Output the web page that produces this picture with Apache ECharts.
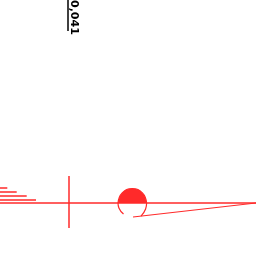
<!DOCTYPE html>
<html>
<head>
<meta charset="utf-8">
<script src="https://cdn.jsdelivr.net/npm/echarts@6/dist/echarts.min.js"></script>
<style>
  html, body { margin: 0; padding: 0; background: #fff; }
  #chart { width: 256px; height: 256px; }
</style>
</head>
<body>
<div id="chart"></div>
<script>
// values
let barCategories = ['a', 'b', 'c', 'd'];
let barValues = [7.3, 16.7, 26.7, 36];

let loopTop = [[49, 0], [53.2, 10.1], [63.3, 14.3], [73.4, 10.1], [77.6, 0]];
let loopLeft = [[49, 0], [49.9, -4.9], [54.5, -11]];
let loopRight = [[77.6, 0], [76.6, -6], [72, -13.1]];
let tail = [[64, -14], [187, 0]];

let valueLabel = '0,041';

let chart = echarts.init(document.getElementById('chart'));

let red = '#ff2a2a';
let hidden = { show: false };

function loopLine(data, area) {
    let s = {
        type: 'line',
        xAxisIndex: 0,
        yAxisIndex: 0,
        data: data,
        smooth: true,
        symbol: 'none',
        lineStyle: { color: red, width: 1.2 },
        silent: true
    };
    if (area) {
        s.areaStyle = { color: red, opacity: 1 };
    }
    return s;
}

// zero lines of the main grid
let zeroLines = {
    silent: true,
    symbol: 'none',
    label: hidden,
    lineStyle: { color: red, width: 1.5, type: 'solid' },
    data: [{ xAxis: 0 }, { yAxis: 0 }]
};

let tailSeries = loopLine(tail, false);
tailSeries.smooth = false;
tailSeries.markLine = zeroLines;

chart.setOption({
    animation: false,
    grid: [
        { left: 0, right: 0, top: 176, bottom: 28 },
        { left: 0, right: 0, top: 186, height: 16 }
    ],
    xAxis: [
        {
            type: 'value', gridIndex: 0, min: -69, max: 187,
            axisLine: hidden, axisTick: hidden, axisLabel: hidden, splitLine: hidden
        },
        {
            type: 'value', gridIndex: 1, min: 0, max: 256,
            axisLine: hidden, axisTick: hidden, axisLabel: hidden, splitLine: hidden
        }
    ],
    yAxis: [
        {
            type: 'value', gridIndex: 0, min: -25, max: 27,
            axisLine: hidden, axisTick: hidden, axisLabel: hidden, splitLine: hidden
        },
        {
            type: 'category', gridIndex: 1, data: barCategories, inverse: true,
            axisLine: hidden, axisTick: hidden, axisLabel: hidden, splitLine: hidden
        }
    ],
    series: [
        {
            type: 'bar',
            xAxisIndex: 1,
            yAxisIndex: 1,
            data: barValues,
            barWidth: 1.5,
            itemStyle: { color: red },
            silent: true
        },
        loopLine(loopTop, true),
        loopLine(loopLeft, false),
        loopLine(loopRight, false),
        tailSeries
    ],
    graphic: [
        {
            type: 'line',
            shape: { x1: 68, y1: 0, x2: 68, y2: 31 },
            style: { stroke: '#000', lineWidth: 1.5 }
        },
        {
            type: 'text',
            x: 68.5,
            y: 0,
            rotation: -Math.PI / 2,
            style: {
                text: valueLabel,
                fill: '#000',
                font: 'bold 11px "DejaVu Sans"',
                textAlign: 'left',
                textVerticalAlign: 'bottom'
            }
        }
    ]
});
</script>
</body>
</html>
